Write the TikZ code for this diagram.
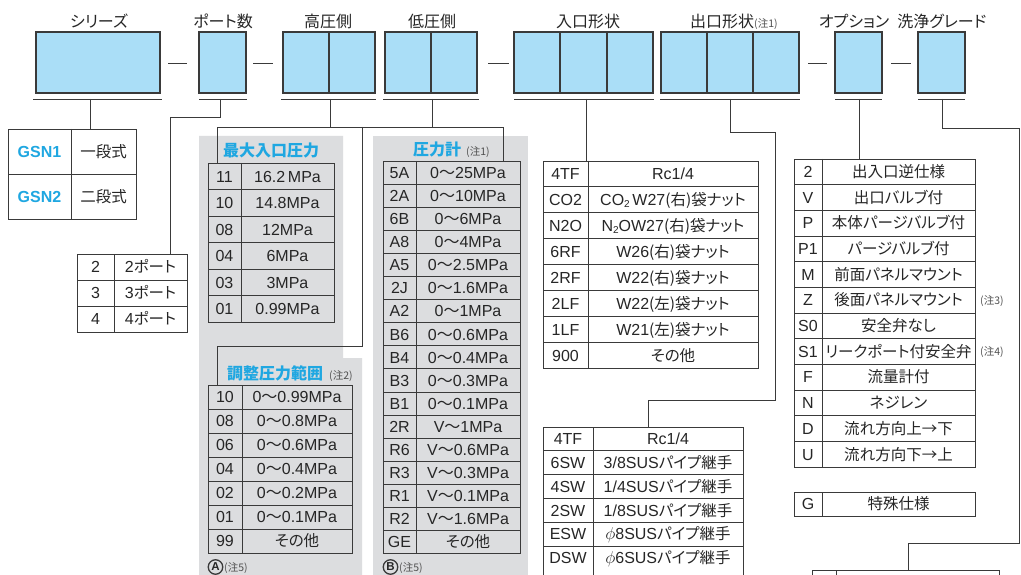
\documentclass[tikz,border=0pt]{standalone}
\usepackage{fontspec}
\setmainfont{Liberation Sans}
\newfontfamily\jp[RawFeature=+palt]{Noto Sans CJK JP}
\definecolor{boxblue}{HTML}{AADEF7}
\definecolor{cyantxt}{HTML}{1FA7E1}
\definecolor{panelgray}{HTML}{DCDDDF}
\definecolor{ln}{HTML}{3A3A3A}
\definecolor{notegray}{HTML}{505050}
\newcommand{\JJ}[1]{{\jp\fontsize{15.5}{17}\selectfont #1}}
\newcommand{\wv}{{\jp 〜}}
\newcommand{\subn}[1]{\raisebox{-1.5pt}{\fontsize{10}{10}\selectfont #1}}
\newcommand{\nt}[1]{{\jp\mdseries\fontsize{10.5}{11}\selectfont\color{notegray}(注#1)}}
\newcommand{\mktable}[7]{%
  \foreach \cc/\dd [count=\i] in {#7} {%
    \pgfmathsetmacro{\yt}{#5+(\i-1)*#6}%
    \pgfmathsetmacro{\yb}{#5+\i*#6}%
    \pgfmathsetmacro{\ym}{(\yt+\yb)/2+5.8}%
    \draw[tbl] (#2,\yt) rectangle (#4,\yb);
    \draw[tbl] (#3,\yt) -- (#3,\yb);
    \node[cell] (#1c\i) at ({(#2+#3)/2},\ym) {\cc};
    \node[cell] (#1d\i) at ({(#3+#4)/2},\ym) {\dd};
  }}
\begin{document}
\begin{tikzpicture}[x=1pt,y=-1pt,
  topbox/.style={draw=ln,fill=boxblue,line width=1.1pt,inner sep=0pt,outer sep=0pt,anchor=north west},
  topdiv/.style={draw=ln,line width=1.1pt},
  uline/.style={draw=ln,line width=0.9pt},
  conn/.style={draw=ln,line width=0.9pt},
  tbl/.style={draw=ln,line width=0.9pt},
  lbl/.style={font=\jp\fontsize{16}{18}\selectfont,inner sep=0pt,anchor=base,text=black!85},
  cell/.style={font=\fontsize{16}{18}\selectfont,inner sep=0pt,anchor=base,text=black!85},
  head/.style={font=\jp\bfseries\fontsize{16}{18}\selectfont,text=cyantxt,inner sep=0pt,anchor=base west},
  notes/.style={inner sep=0pt,anchor=base west},
  circ/.style={circle,draw=ln,line width=1.3pt,inner sep=0pt,minimum size=14.5pt,text=black!85,font=\bfseries\fontsize{11.5}{12}\selectfont},
]
\useasboundingbox (0,0) rectangle (1021,575);
\clip (0,0) rectangle (1021,575);
\fill[white] (0,0) rectangle (1021,575);
% gray panels
\fill[panelgray] (199,136) -- (343,136) -- (343,358) -- (362,358) -- (362,575) -- (199,575) -- cycle;
\fill[panelgray] (373,136) rectangle (528,575);

% top labels
\node[lbl] (lSer) at (99,28) {シリーズ};
\node[lbl] (lPort) at (223,28) {ポート数};
\node[lbl] (lHp) at (328,28) {高圧側};
\node[lbl] (lLp) at (432,28) {低圧側};
\node[lbl] (lIn) at (588,28) {入口形状};
\node[lbl,anchor=base west] (lOut) at (690,28) {出口形状\nt{1}};
\node[lbl] (lOpt) at (854,28) {オプション};
\node[lbl] (lCln) at (942,28) {洗浄グレード};

% top boxes
\node[topbox,minimum width=124pt,minimum height=61pt] (ser) at (36,32) {};
\node[topbox,minimum width=47pt,minimum height=61pt] (port) at (199,32) {};
\node[topbox,minimum width=92pt,minimum height=61pt] (hp) at (283,32) {};
\node[topbox,minimum width=92pt,minimum height=61pt] (lp) at (385,32) {};
\node[topbox,minimum width=139pt,minimum height=61pt] (inl) at (514,32) {};
\node[topbox,minimum width=138pt,minimum height=61pt] (outl) at (661,32) {};
\node[topbox,minimum width=47pt,minimum height=61pt] (opt) at (835,32) {};
\node[topbox,minimum width=47pt,minimum height=61pt] (cln) at (918,32) {};
\draw[topdiv] (hp.north) -- (hp.south);
\draw[topdiv] (lp.north) -- (lp.south);
\draw[topdiv] (560,32) -- (560,93);
\draw[topdiv] (607,32) -- (607,93);
\draw[topdiv] (707,32) -- (707,93);
\draw[topdiv] (753,32) -- (753,93);
% dashes
\foreach \a/\b in {168/187,253/273,488/509,808/827,891/911}
  \draw[conn] (\a,63) -- (\b,63);
% underlines
\foreach \a/\b in {33/162,199/247,281/376,383/479,514/654,660/800,835/882,918/965}
  \draw[uline] (\a,99) -- (\b,99);

% connector coordinates
\coordinate (serU) at (90,99);   \coordinate (gsnT) at (90,129);
\coordinate (portU) at (220,99); \coordinate (portT) at (170,254);
\coordinate (hpU) at (330,99);   \coordinate (lpU) at (432,99);
\coordinate (busL) at (217,127); \coordinate (busR) at (503,127);
\coordinate (busM) at (362,127);
\coordinate (maxT) at (217,163); \coordinate (gauT) at (503,161);
\coordinate (adjT) at (217,385);
\coordinate (inU) at (586,99);   \coordinate (inT) at (586,161);
\coordinate (outU) at (730,99);  \coordinate (outT) at (648,427);
\coordinate (optU) at (859,99);  \coordinate (optT) at (859,159);
\coordinate (clnU) at (942,99);  \coordinate (clnT) at (908,570);

\draw[conn] (serU) -- (gsnT);
\draw[conn] (portU) -- (220,117) -- (170,117) -- (portT);
\draw[conn] (hpU) -- (330,127);
\draw[conn] (lpU) -- (432,127);
\draw[conn] (maxT) -- (busL) -- (busR) -- (gauT);
\draw[conn] (busM) -- (362,346) -- (217,346) -- (adjT);
\draw[conn] (inU) -- (inT);
\draw[conn] (outU) -- (730,132) -- (775,132) -- (775,400) -- (648,400) -- (outT);
\draw[conn] (optU) -- (optT);
\draw[conn] (clnU) -- (942,128) -- (1019,128) -- (1019,543) -- (908,543) -- (clnT);

% series table
\draw[tbl] (8,129) rectangle (136,219);
\draw[tbl] (8,174) -- (136,174);
\draw[tbl] (71,129) -- (71,219);
\node[cell,font=\bfseries\fontsize{16}{18}\selectfont,text=cyantxt] (gsn1) at (39.5,157.5) {GSN1};
\node[cell,font=\bfseries\fontsize{16}{18}\selectfont,text=cyantxt] (gsn2) at (39.5,202.5) {GSN2};
\node[cell] (gsn1d) at (103.5,157.5) {\JJ{一段式}};
\node[cell] (gsn2d) at (103.5,202.5) {\JJ{二段式}};

% ports
\mktable{prt}{77}{114}{187}{254}{26}{2/2\JJ{ポート},3/3\JJ{ポート},4/4\JJ{ポート}}

% max inlet pressure
\node[head,anchor=base] (hMax) at (271,157) {最大入口圧力};
\mktable{mx}{208}{241}{334}{163}{26.5}{11/16.2\,MPa,10/14.8MPa,08/12MPa,04/6MPa,03/3MPa,01/0.99MPa}

% adjust range
\node[head] (hAdj) at (227,379) {調整圧力範囲\hspace{6pt}\nt{2}};
\mktable{adj}{208}{242}{352}{385}{24}{10/0\wv0.99MPa,08/0\wv0.8MPa,06/0\wv0.6MPa,04/0\wv0.4MPa,02/0\wv0.2MPa,01/0\wv0.1MPa,99/\JJ{その他}}
\node[circ] (cA) at (215.5,567) {A};
\node[notes] (nA) at (224,571) {\nt{5}};

% gauge
\node[head] (hGau) at (413,156) {圧力計\hspace{5pt}\nt{1}};
\mktable{gau}{383}{416}{520}{161}{23.1}{5A/0\wv25MPa,2A/0\wv10MPa,6B/0\wv6MPa,A8/0\wv4MPa,A5/0\wv2.5MPa,2J/0\wv1.6MPa,A2/0\wv1MPa,B6/0\wv0.6MPa,B4/0\wv0.4MPa,B3/0\wv0.3MPa,B1/0\wv0.1MPa,2R/V\wv1MPa,R6/V\wv0.6MPa,R3/V\wv0.3MPa,R1/V\wv0.1MPa,R2/V\wv1.6MPa,GE/\JJ{その他}}
\node[circ] (cB) at (390.5,567) {B};
\node[notes] (nB) at (399,571) {\nt{5}};

% inlet shape
\mktable{inl}{543}{588}{758}{161}{25.9}{4TF/{Rc1/4},CO2/CO\subn{2}\,W27\JJ{(右)袋ナット},N2O/N\subn{2}OW27\JJ{(右)袋ナット},6RF/W26\JJ{(右)袋ナット},2RF/W22\JJ{(右)袋ナット},2LF/W22\JJ{(左)袋ナット},1LF/W21\JJ{(左)袋ナット},900/\JJ{その他}}

% outlet shape (cut by the page edge)
\draw[tbl] (543,427) -- (743,427);
\foreach \y in {450.8,474.6,498.4,522.2,546} \draw[tbl] (543,\y) -- (743,\y);
\draw[tbl] (543,427) -- (543,580);
\draw[tbl] (593,427) -- (593,580);
\draw[tbl] (743,427) -- (743,580);
\foreach \cc/\dd [count=\i] in {4TF/{Rc1/4},6SW/{3/8SUS\JJ{パイプ継手}},4SW/{1/4SUS\JJ{パイプ継手}},2SW/{1/8SUS\JJ{パイプ継手}},ESW/$\phi$8SUS\JJ{パイプ継手},DSW/$\phi$6SUS\JJ{パイプ継手}} {
  \pgfmathsetmacro{\ym}{427+(\i-0.5)*23.8+5.8}
  \node[cell] (outc\i) at (568,\ym) {\cc};
  \node[cell] (outd\i) at (668,\ym) {\dd};
}

% options
\mktable{opt}{794}{822}{975}{159}{25.67}{2/\JJ{出入口逆仕様},V/\JJ{出口バルブ付},P/\JJ{本体パージバルブ付},P1/\JJ{パージバルブ付},M/\JJ{前面パネルマウント},Z/\JJ{後面パネルマウント},S0/\JJ{安全弁なし},S1/\JJ{リークポート付安全弁},F/\JJ{流量計付},N/\JJ{ネジレン},D/\JJ{流れ方向上→下},U/\JJ{流れ方向下→上}}
\node[notes] (n3) at (980,304) {\nt{3}};
\node[notes] (n4) at (980,355.5) {\nt{4}};

% special
\mktable{spc}{794}{822}{975}{492}{24}{G/\JJ{特殊仕様}}

% bottom table (cut)
\draw[tbl] (812,570) -- (999,570);
\draw[tbl] (812,570) -- (812,580);
\draw[tbl] (836,570) -- (836,580);
\draw[tbl] (999,570) -- (999,580);
\end{tikzpicture}
\end{document}
